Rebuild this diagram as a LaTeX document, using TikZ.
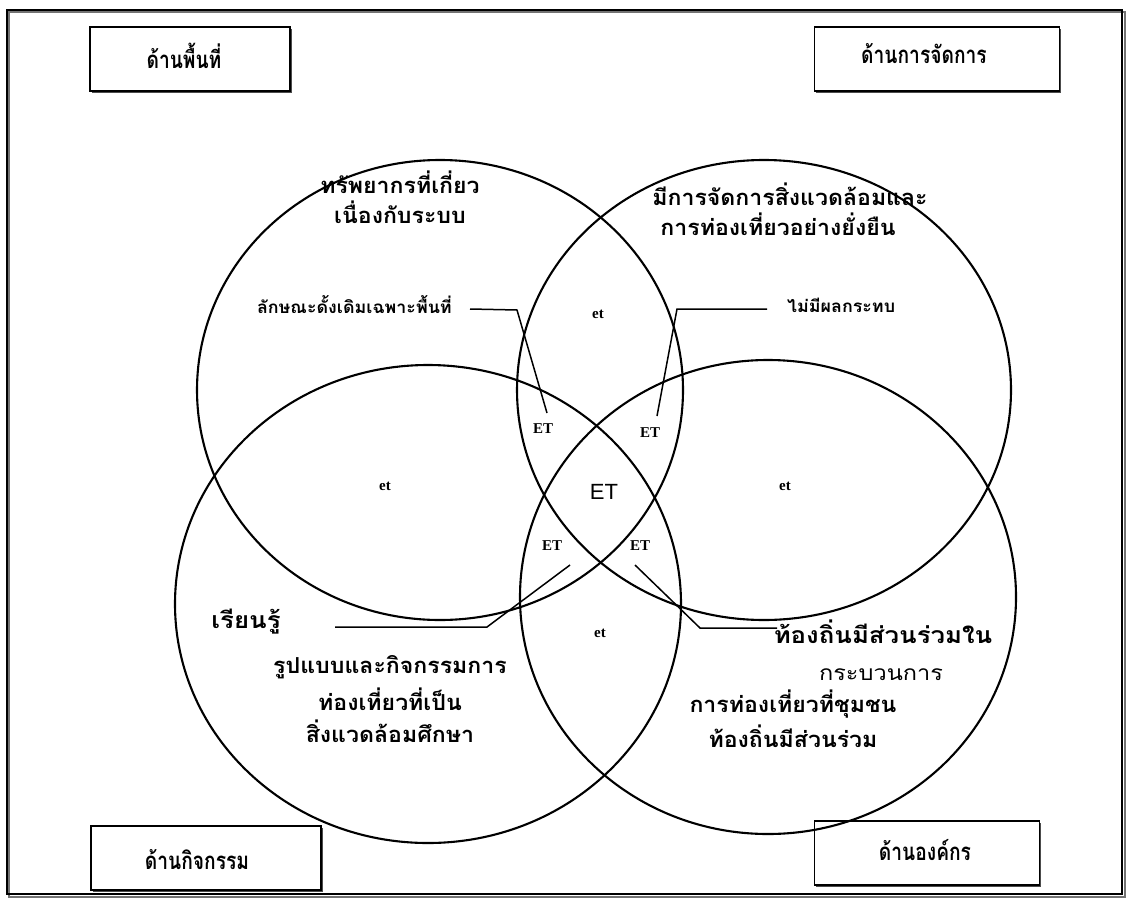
\documentclass[tikz,border=0pt]{standalone}
\usepackage{fontspec}
\setmainfont{Liberation Serif}
\newfontfamily\thaibody[Script=Thai,FakeStretch=1.05]{Loma}
\newfontfamily\thaiwide[Script=Thai,FakeStretch=1.12]{Loma}
\newfontfamily\thaibox[Script=Thai,FakeStretch=0.8]{Loma}
\newfontfamily\arialish{Liberation Sans}
\usetikzlibrary{shadows}
\tikzset{
  every picture/.style={x=1pt,y=-1pt},
  ring/.style={draw=black,line width=2.1pt},
  leader/.style={draw=black,line width=1.5pt},
  headbox/.style={draw=black,line width=1.4pt,fill=white,minimum height=64pt,
    drop shadow={shadow xshift=1.5pt,shadow yshift=-2pt,fill=black!70,opacity=1}},
  boxtext/.style={font=\thaibox\bfseries\fontsize{24}{28}\selectfont,inner sep=0pt},
  thaib/.style={font=\thaibody\bfseries\fontsize{22}{26}\selectfont,inner sep=0pt},
  thaibig/.style={font=\thaiwide\bfseries\fontsize{23}{27}\selectfont,inner sep=0pt},
  thaireg/.style={font=\thaiwide\fontsize{21}{25}\selectfont,inner sep=0pt},
  thais/.style={font=\thaibody\bfseries\fontsize{17}{20}\selectfont,inner sep=0pt},
  etsmall/.style={font=\bfseries\fontsize{15}{17}\selectfont,inner sep=0pt},
  etbig/.style={font=\arialish\fontsize{22}{25}\selectfont,inner sep=0pt}
}
\begin{document}
\begin{tikzpicture}
\useasboundingbox (0,0) rectangle (1129,902);
\fill[white] (0,0) rectangle (1129,902);
% outer frame
\draw[black!55,line width=1.2pt] (9,12) rectangle (1125,897);
\draw[black,line width=1.5pt] (7,10) rectangle (1122,894);

% corner boxes
\node[headbox,minimum width=200pt] (bA) at (190,59) {};
\node[headbox,minimum width=245pt] (bB) at (937,59) {};
\node[headbox,minimum width=230pt] (bC) at (206,858) {};
\node[headbox,minimum width=225pt] (bD) at (927,853) {};
\node[boxtext] (bAt) at (184,56) {ด้านพื้นที่};
\node[boxtext] (bBt) at (924,54) {ด้านการจัดการ};
\node[boxtext] (bCt) at (197,860) {ด้านกิจกรรม};
\node[boxtext] (bDt) at (925,850) {ด้านองค์กร};

% four rings
\draw[ring] (440,390) ellipse [x radius=243, y radius=230];
\draw[ring] (764,390) ellipse [x radius=247, y radius=230];
\draw[ring] (428,604) ellipse [x radius=253, y radius=239];
\draw[ring] (768,597) ellipse [x radius=248, y radius=237];

% ring texts
\node[thaib] (tA1) at (400,182) {ทรัพยากรที่เกี่ยว};
\node[thaib] (tA2) at (400,212) {เนื่องกับระบบ};
\node[thaib] (tB1) at (790,194) {มีการจัดการสิ่งแวดล้อมและ};
\node[thaib] (tB2) at (778,224) {การท่องเที่ยวอย่างยั่งยืน};
\node[thaibig] (tC0) at (246,622) {เรียนรู้};
\node[thaib] (tC1) at (390,667) {รูปแบบและกิจกรรมการ};
\node[thaib] (tC2) at (390,699) {ท่องเที่ยวที่เป็น};
\node[thaib] (tC3) at (390,731) {สิ่งแวดล้อมศึกษา};
\node[thaibig] (tD0) at (883,632) {ท้องถิ่นมีส่วนร่วมใน};
\node[thaireg] (tD1) at (881,675) {กระบวนการ};
\node[thaib] (tD2) at (793,704) {การท่องเที่ยวที่ชุมชน};
\node[thaib] (tD3) at (793,736) {ท้องถิ่นมีส่วนร่วม};
\node[thais,anchor=east] (tS1) at (452,305) {ลักษณะดั้งเดิมเฉพาะพื้นที่};
\node[thais,anchor=west] (tS2) at (787,305) {ไม่มีผลกระทบ};

% region labels
\node[etsmall] (eAB) at (598,314) {et};
\node[etsmall] (eAC) at (385,486) {et};
\node[etsmall] (eBD) at (785,486) {et};
\node[etsmall] (eCD) at (600,633) {et};
\node[etsmall] (EABC) at (543,429) {ET};
\node[etsmall] (EABD) at (650,433) {ET};
\node[etsmall] (EACD) at (552,546) {ET};
\node[etsmall] (EBCD) at (640,546) {ET};
\node[etbig] (Eall) at (604,492) {ET};

% leaders
\coordinate (l1a) at (470,309); \coordinate (l1b) at (517,310); \coordinate (l1c) at (547,413);
\draw[leader] (l1a) -- (l1b) -- (l1c);
\coordinate (l2a) at (767,309); \coordinate (l2b) at (677,309); \coordinate (l2c) at (657,416);
\draw[leader] (l2a) -- (l2b) -- (l2c);
\coordinate (l3a) at (335,627); \coordinate (l3b) at (487,627); \coordinate (l3c) at (570,565);
\draw[leader] (l3a) -- (l3b) -- (l3c);
\coordinate (l4a) at (635,565); \coordinate (l4b) at (700,628); \coordinate (l4c) at (777,628);
\draw[leader] (l4a) -- (l4b) -- (l4c);
\end{tikzpicture}
\end{document}
